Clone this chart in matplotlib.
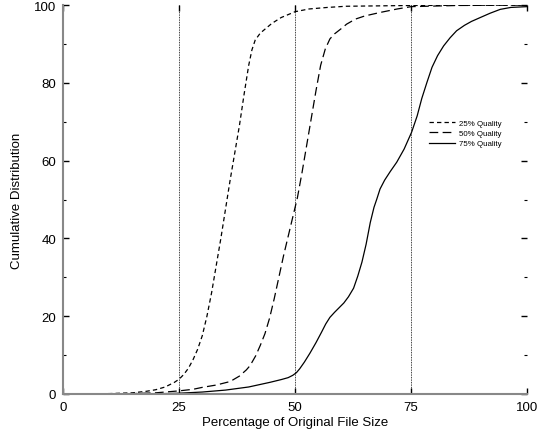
import matplotlib
matplotlib.use('Agg')
import numpy as np
import matplotlib.pyplot as plt

plt.rcParams['font.family'] = ['Liberation Sans', 'DejaVu Sans']

# cumulative distributions
x25 = [0, 10, 15, 18, 20, 22, 24, 25, 26, 27, 28, 29, 30, 31, 32, 33, 34, 35, 36, 37, 38, 39, 40,
       40.7, 41.4, 42.5, 43.5, 45, 47, 50, 53, 57, 61, 75, 100]
y25 = [0, 0.1, 0.3, 0.7, 1.1, 1.8, 3, 3.8, 5, 6.6, 8.8, 11.5, 15, 20, 26, 33, 40, 47.5, 55, 62, 69, 77, 84.5,
       88.5, 91, 92.8, 93.8, 95.3, 96.8, 98.3, 99, 99.4, 99.7, 99.9, 100]

x50 = [0, 15, 20, 25, 28, 30, 33, 36, 38, 39.5, 40.3, 41.5, 42.5, 43.5, 44.5, 45.5, 46.5, 47.5, 48.5,
       49.5, 50.5, 51.5, 52.5, 53.5, 54.5, 55.5, 56.5, 57.5, 58.5, 60, 61.1, 63, 65, 68.3, 72, 75, 85, 100]
y50 = [0, 0.1, 0.3, 0.8, 1.2, 1.7, 2.3, 3.2, 4.6, 6.2, 7.3, 9.8, 12.5, 15.5, 19.5, 24.5, 30, 35.5, 40.5,
       45.5, 50.5, 57, 64, 71, 78, 84.5, 88.7, 91.3, 92.6, 94, 95.1, 96.4, 97.2, 98.1, 99, 99.6, 99.9, 100]

x75 = [0, 20, 25, 30, 35, 40, 44.6, 47, 48.5, 49.5, 50.3, 51, 52, 53.2, 54.5, 55.7, 56.6, 57.5, 58.5, 59.5, 60.5,
       61.5, 62.6, 63.5, 64.4, 65.3, 66.2, 67, 67.6, 68.3, 69.3, 70.5, 71.9, 73.5, 75.1, 76.3, 77.3, 78.4,
       79.5, 80.7, 82, 83.4, 84.8, 86.5, 88, 89.9, 92, 94.2, 96.5, 100]
y75 = [0, 0.05, 0.2, 0.5, 1, 1.8, 3, 3.7, 4.2, 4.8, 5.5, 6.5, 8.2, 10.5, 13.2, 15.9, 18, 19.7, 21, 22.2, 23.4,
       25, 27.2, 30.3, 33.9, 38.5, 44.1, 48, 50.1, 52.7, 55, 57.2, 59.6, 63, 67.3, 71.5, 76, 80.1,
       84, 87, 89.5, 91.6, 93.4, 94.8, 95.8, 96.8, 97.9, 98.9, 99.4, 99.6]

marks = [25, 50, 75]

fig = plt.figure(figsize=(5.39, 4.35), dpi=100)
ax = fig.add_axes([0.117, 0.092, 0.861, 0.894])

ax.plot(x25, y25, color='black', lw=0.9, dashes=(3.5, 2.5), label='25% Quality')
ax.plot(x50, y50, color='black', lw=0.9, dashes=(7, 3.5), label='50% Quality')
ax.plot(x75, y75, color='black', lw=0.9, label='75% Quality')

for m in marks:
    ax.plot([m, m], [0, 100], color='black', lw=0.6, ls=(0, (1, 1)))

ax.set_xlim(0, 100)
ax.set_ylim(0, 100)
ax.set_xticks([0, 25, 50, 75, 100])
ax.set_yticks([0, 20, 40, 60, 80, 100])
ax.set_yticks([10, 30, 50, 70, 90], minor=True)
ax.tick_params(which='both', direction='in', top=True, right=True, labelsize=9.5, pad=5)
ax.tick_params(which='major', length=4, width=1)
ax.tick_params(which='minor', length=2, width=0.8)

for s in ['top', 'right']:
    ax.spines[s].set_visible(False)
for s in ['left', 'bottom']:
    ax.spines[s].set_color('#888888')
    ax.spines[s].set_linewidth(1.5)

ax.set_xlabel('Percentage of Original File Size', fontsize=9.5, labelpad=2)
ax.set_ylabel('Cumulative Distribution', fontsize=9.5, labelpad=8)

ax.legend(loc='upper right', bbox_to_anchor=(0.96, 0.725), frameon=False, fontsize=5.7,
          handlelength=3.3, handletextpad=0.5, labelspacing=0.35)

fig.savefig('out.png', dpi=100)
